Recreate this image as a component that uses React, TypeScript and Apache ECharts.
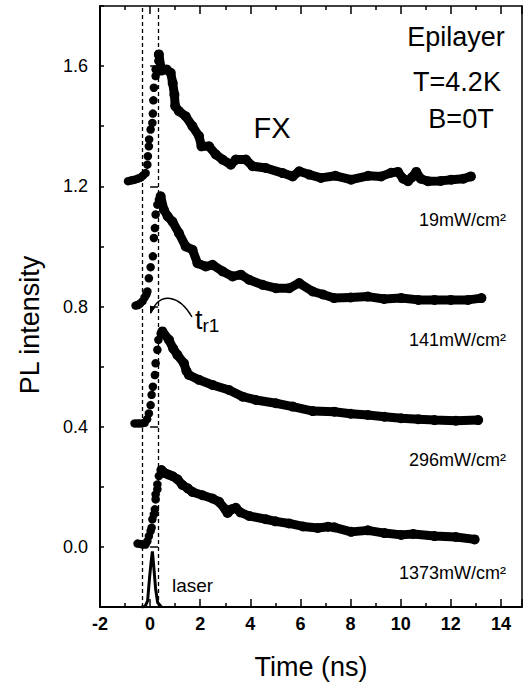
import React, { useEffect, useRef } from 'react';
import * as echarts from 'echarts';

// ---- data (time in ns, PL intensity in a.u., offset per excitation power) ----
const fx19Rise: number[][] = [
  [-0.88, 1.217], [-0.78, 1.219], [-0.68, 1.221], [-0.58, 1.223], [-0.48, 1.226], [-0.38, 1.229],
  [-0.28, 1.236], [-0.18, 1.244], [-0.11, 1.272], [-0.09, 1.3], [-0.05, 1.333], [-0.04, 1.356],
  [0.02, 1.389], [0.09, 1.411], [0.11, 1.442], [0.13, 1.486], [0.15, 1.528], [0.22, 1.567],
  [0.22, 1.589], [0.33, 1.617], [0.33, 1.639],
];
const fx19Decay: number[][] = [
  [0.35, 1.639], [0.45, 1.585], [0.65, 1.589], [0.82, 1.578], [0.9, 1.544], [0.97, 1.505],
  [1.0, 1.467], [1.15, 1.45], [1.42, 1.433], [1.69, 1.4], [1.95, 1.367], [2.05, 1.333],
  [2.35, 1.333], [2.62, 1.306], [2.89, 1.289], [3.22, 1.272], [3.42, 1.289], [3.82, 1.289],
  [4.09, 1.267], [4.62, 1.261], [5.29, 1.244], [5.69, 1.233], [5.95, 1.25], [6.35, 1.239],
  [6.82, 1.228], [7.4, 1.235], [8.02, 1.222], [8.7, 1.235], [9.22, 1.233], [9.62, 1.245],
  [9.89, 1.248], [10.1, 1.225], [10.29, 1.217], [10.45, 1.23], [10.62, 1.248], [10.8, 1.225],
  [11.09, 1.217], [11.6, 1.218], [12.02, 1.222], [12.5, 1.225], [12.8, 1.233],
];

const fx141Rise: number[][] = [
  [-0.58, 0.803], [-0.48, 0.805], [-0.4, 0.81], [-0.3, 0.818], [-0.22, 0.83], [-0.15, 0.84],
  [-0.11, 0.85], [-0.05, 0.894], [0.02, 0.931], [0.11, 0.967], [0.15, 1.028], [0.19, 1.061],
  [0.22, 1.106], [0.29, 1.139], [0.35, 1.155], [0.42, 1.167],
];
const fx141Decay: number[][] = [
  [0.42, 1.167], [0.55, 1.122], [0.7, 1.1], [0.89, 1.083], [1.15, 1.044], [1.42, 1.0],
  [1.69, 0.989], [1.89, 0.944], [2.22, 0.933], [2.49, 0.939], [2.89, 0.917], [3.29, 0.9],
  [3.62, 0.906], [3.95, 0.889], [4.49, 0.872], [5.02, 0.861], [5.55, 0.861], [5.95, 0.878],
  [6.49, 0.85], [6.9, 0.84], [7.34, 0.828], [8.0, 0.83], [8.69, 0.833], [9.34, 0.825],
  [10.02, 0.828], [10.7, 0.822], [11.35, 0.822], [12.0, 0.822], [12.69, 0.822], [13.22, 0.828],
];

const fx296Rise: number[][] = [
  [-0.62, 0.411], [-0.52, 0.411], [-0.42, 0.411], [-0.32, 0.411], [-0.22, 0.413], [-0.12, 0.425],
  [-0.05, 0.444], [0.02, 0.472], [0.06, 0.506], [0.11, 0.533], [0.19, 0.572], [0.22, 0.611],
  [0.29, 0.656], [0.33, 0.689], [0.42, 0.71],
];
const fx296Decay: number[][] = [
  [0.49, 0.717], [0.75, 0.689], [0.92, 0.66], [1.09, 0.639], [1.35, 0.611], [1.45, 0.585],
  [1.55, 0.572], [1.95, 0.556], [2.49, 0.539], [3.15, 0.522], [3.69, 0.5], [4.22, 0.489],
  [5.02, 0.478], [5.69, 0.467], [6.49, 0.452], [7.35, 0.45], [8.0, 0.443], [8.69, 0.439],
  [9.35, 0.433], [10.02, 0.428], [10.7, 0.425], [11.35, 0.422], [12.2, 0.42], [13.09, 0.422],
];

const fx1373Rise: number[][] = [
  [-0.5, 0.011], [-0.4, 0.01], [-0.3, 0.008], [-0.18, 0.008], [-0.11, 0.019], [-0.05, 0.036],
  [0.02, 0.053], [0.06, 0.064], [0.09, 0.092], [0.15, 0.108], [0.19, 0.125], [0.22, 0.158],
  [0.22, 0.175], [0.29, 0.192], [0.29, 0.208], [0.35, 0.236],
];
const fx1373Decay: number[][] = [
  [0.45, 0.256], [0.6, 0.245], [0.75, 0.24], [0.9, 0.235], [1.09, 0.225], [1.29, 0.206],
  [1.5, 0.195], [1.69, 0.183], [2.09, 0.172], [2.49, 0.161], [2.75, 0.15], [3.0, 0.125],
  [3.09, 0.113], [3.25, 0.125], [3.42, 0.13], [3.6, 0.115], [3.95, 0.103], [4.62, 0.092],
  [5.0, 0.085], [5.55, 0.078], [6.1, 0.068], [6.69, 0.063], [7.1, 0.067], [7.35, 0.065],
  [8.02, 0.05], [8.69, 0.055], [9.35, 0.046], [10.02, 0.04], [10.5, 0.043], [11.35, 0.036],
  [12.2, 0.033], [12.95, 0.025],
];

const laserPulse: number[][] = [
  [-0.35, -0.2], [-0.2, -0.198], [-0.1, -0.18], [-0.02, -0.1], [0.04, -0.05], [0.09, -0.015],
  [0.15, -0.07], [0.22, -0.14], [0.3, -0.185], [0.45, -0.2],
];

const markerTimes = [-0.3, 0.33];
const yLabelValues = [0, 0.4, 0.8, 1.2, 1.6];
const powerLabels = ['19mW/cm²', '141mW/cm²', '296mW/cm²', '1373mW/cm²'];
const infoLines = ['Epilayer', 'T=4.2K', 'B=0T'];

const FONT = 'Liberation Sans, Arial, Helvetica, sans-serif';

export default function App() {
  const ref = useRef<HTMLDivElement>(null);
  useEffect(() => {
    if (!ref.current) return;
    const chart = echarts.init(ref.current, undefined, { renderer: 'svg' });

    const curves = [
      [fx19Rise, fx19Decay],
      [fx141Rise, fx141Decay],
      [fx296Rise, fx296Decay],
      [fx1373Rise, fx1373Decay],
    ];
    const series: any[] = [];
    curves.forEach(([rise, decay], i) => {
      series.push({
        type: 'scatter',
        name: powerLabels[i] + ' rise',
        data: rise,
        symbolSize: 8.5,
        itemStyle: { color: '#000', opacity: 1 },
        silent: true,
      });
      series.push({
        type: 'line',
        name: powerLabels[i] + ' decay',
        data: decay,
        symbol: 'circle',
        symbolSize: 10,
        showSymbol: true,
        showAllSymbol: true,
        itemStyle: { color: '#000', opacity: 1 },
        lineStyle: { color: '#000', width: 9, cap: 'round', join: 'round' },
        silent: true,
      });
    });
    series.push({
      type: 'line',
      name: 'laser',
      data: laserPulse,
      showSymbol: false,
      lineStyle: { color: '#000', width: 3 },
      silent: true,
      markLine: {
        silent: true,
        symbol: ['none', 'none'],
        label: { show: false },
        lineStyle: { color: '#000', width: 1.3, type: [4, 3] },
        data: markerTimes.map((t) => ({ xAxis: t })),
      },
    });

    const tickStyle = { color: '#000', width: 1.5 };
    const powerY = [220, 340, 460, 573];
    const infoY = [37, 82, 119];
    const infoX = [456, 457, 461];

    const graphic: any[] = [
      ...infoLines.map((t, i) => ({
        type: 'text', x: infoX[i], y: infoY[i],
        style: { text: t, fontSize: 27, fontFamily: FONT, fill: '#000', align: 'center', verticalAlign: 'middle' },
      })),
      {
        type: 'text', x: 272, y: 128,
        style: { text: 'FX', fontSize: 29, fontFamily: FONT, fill: '#000', align: 'center', verticalAlign: 'middle' },
      },
      ...powerLabels.map((p, i) => ({
        type: 'text', x: 506, y: powerY[i],
        style: { text: p, fontSize: 18, fontFamily: FONT, fill: '#000', align: 'right', verticalAlign: 'middle' },
      })),
      {
        type: 'text', x: 172, y: 585,
        style: { text: 'laser', fontSize: 19, fontFamily: FONT, fill: '#000', align: 'left', verticalAlign: 'middle' },
      },
      {
        type: 'text', x: 195, y: 320,
        style: {
          text: '{t|t}{s|r1}', align: 'left', verticalAlign: 'middle', fill: '#000',
          rich: {
            t: { fontSize: 27, lineHeight: 30, fontFamily: FONT, fill: '#000' },
            s: { fontSize: 19, lineHeight: 19, fontFamily: FONT, fill: '#000', verticalAlign: 'bottom' },
          },
        },
      },
      {
        type: 'bezierCurve',
        shape: { x1: 192, y1: 317, cpx1: 180, cpy1: 296, cpx2: 160, cpy2: 290, x2: 151, y2: 313 },
        style: { stroke: '#000', lineWidth: 1.3, fill: 'none' },
      },
      {
        type: 'polygon',
        shape: { points: [[150, 314], [155.5, 307.5], [150, 305.5]] },
        style: { fill: '#000' },
      },
      {
        type: 'text', x: 311, y: 667,
        style: { text: 'Time (ns)', fontSize: 27, fontFamily: FONT, fill: '#000', align: 'center', verticalAlign: 'middle' },
      },
      {
        type: 'text', x: 30, y: 325, rotation: Math.PI / 2,
        style: { text: 'PL intensity', fontSize: 27, fontFamily: FONT, fill: '#000', align: 'center', verticalAlign: 'middle' },
      },
    ];

    chart.setOption({
      animation: false,
      backgroundColor: '#fff',
      grid: { left: 100, top: 6, right: 6, bottom: 76, containLabel: false },
      xAxis: [
        {
          type: 'value', min: -2, max: 14.84, interval: 2, position: 'bottom',
          axisLine: { show: true, onZero: false, lineStyle: { color: '#000', width: 2 } },
          axisTick: { show: true, inside: true, length: 8, lineStyle: tickStyle },
          minorTick: { show: true, splitNumber: 2, length: 4, lineStyle: tickStyle },
          splitLine: { show: false },
          axisLabel: { color: '#000', fontSize: 18, fontWeight: 'bold', fontFamily: FONT, margin: 8, showMaxLabel: false },
        },
        {
          type: 'value', min: -2, max: 14.84, interval: 2, position: 'top',
          axisLine: { show: true, onZero: false, lineStyle: { color: '#000', width: 1.5 } },
          axisTick: { show: true, inside: true, length: 8, lineStyle: tickStyle },
          minorTick: { show: true, splitNumber: 2, length: 4, lineStyle: tickStyle },
          splitLine: { show: false },
          axisLabel: { show: false },
        },
      ],
      yAxis: [
        {
          type: 'value', min: -0.2, max: 1.8, interval: 0.2, position: 'left',
          axisLine: { show: true, onZero: false, lineStyle: { color: '#000', width: 2 } },
          axisTick: { show: true, inside: true, length: 4, lineStyle: tickStyle },
          splitLine: { show: false },
          axisLabel: {
            color: '#000', fontSize: 18, fontFamily: FONT, margin: 12,
            formatter: (v: number) => {
              const k = Math.round(v * 10);
              return yLabelValues.some((y) => Math.round(y * 10) === k) ? v.toFixed(1) : '';
            },
          },
        },
        {
          type: 'value', min: -0.2, max: 1.8, position: 'left',
          axisLine: { show: false },
          axisTick: { show: true, inside: true, length: 8, lineStyle: tickStyle, customValues: yLabelValues },
          axisLabel: { show: false },
          splitLine: { show: false },
        },
        {
          type: 'value', min: -0.2, max: 1.8, position: 'right',
          axisLine: { show: true, onZero: false, lineStyle: { color: '#000', width: 1.5 } },
          axisTick: { show: false },
          axisLabel: { show: false },
          splitLine: { show: false },
        },
      ],
      series,
      graphic,
    });
    return () => chart.dispose();
  }, []);
  return <div ref={ref} style={{ position: 'absolute', left: 0, top: 0, width: 528, height: 683 }} />;
}
